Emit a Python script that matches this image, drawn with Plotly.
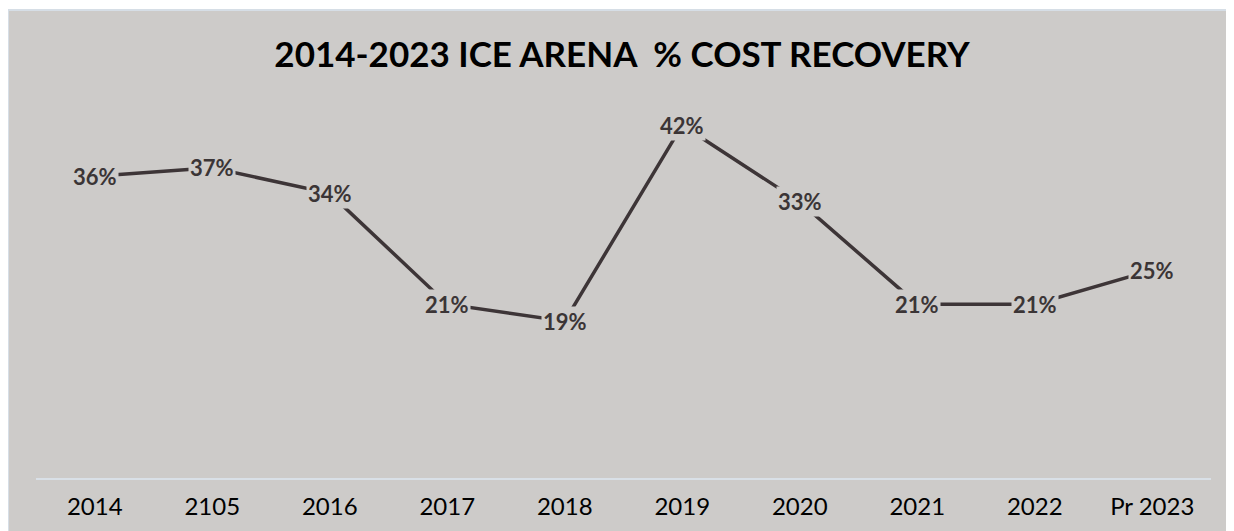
import plotly.graph_objects as go

categories = ["2014", "2105", "2016", "2017", "2018", "2019", "2020", "2021", "2022", "Pr 2023"]
recovery = [0.36, 0.37, 0.34, 0.21, 0.19, 0.42, 0.33, 0.21, 0.21, 0.25]

BG = "#CDCBC9"
LINE = "#3D3537"

fig = go.Figure()
fig.add_trace(go.Scatter(
    x=categories, y=recovery, mode="lines",
    line=dict(color=LINE, width=3.5), hoverinfo="skip", showlegend=False,
))

for i, v in enumerate(recovery):
    fig.add_annotation(
        x=i, y=v, xref="x", yref="y", text=f"{round(v*100)}%", showarrow=False,
        font=dict(family="Lato", size=22, color="#3B3536", weight="bold"),
        bgcolor=BG, borderpad=1,
    )

# page has an 8px body margin
W, H = 1226, 523
L, R, T, B = 28, 23, 49, 53
pw, ph = W - L - R, H - T - B
fig.add_shape(
    type="rect", xref="paper", yref="paper", layer="below",
    x0=(0 - L) / pw, x1=(W - L + 5) / pw,
    y0=(H - B - H - 5) / ph, y1=(H - B - 2) / ph,
    fillcolor=BG, line=dict(color="#D6DEE6", width=2),
)

fig.update_layout(
    width=W, height=H,
    margin=dict(l=L, r=R, t=T, b=B),
    paper_bgcolor="white", plot_bgcolor="rgba(0,0,0,0)",
    title=dict(
        text="<b>2014-2023 ICE ARENA  % COST RECOVERY</b>",
        x=(622 - 8) / W, xanchor="center", y=1 - 47 / H, yanchor="middle",
        font=dict(family="Lato", size=35, color="black"),
    ),
    xaxis=dict(
        type="category", showgrid=False, zeroline=False, automargin=False,
        showline=True, linecolor="#D9E0E7", linewidth=2,
        ticks="", ticklabelstandoff=6,
        tickfont=dict(family="Lato", size=24, color="black"),
        range=[-0.5, len(categories) - 0.5],
    ),
    yaxis=dict(visible=False, range=[0.006, 0.5], fixedrange=True, automargin=False),
)

fig.write_html("out.html")
